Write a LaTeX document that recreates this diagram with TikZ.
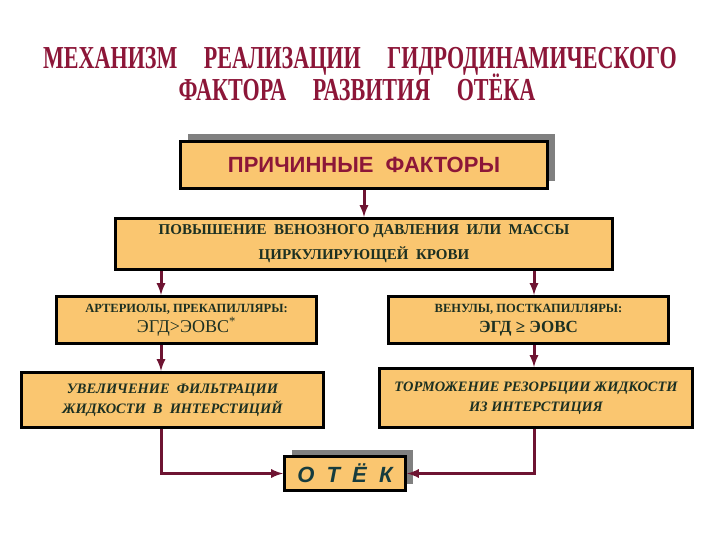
\documentclass[tikz,border=0pt]{standalone}
\usepackage{fontspec}
\usepackage{graphicx}
\setmainfont{Liberation Serif}
\setsansfont{Liberation Sans}
\usetikzlibrary{positioning,shadows}
\definecolor{titleColor}{RGB}{140,22,56}
\definecolor{boxFill}{RGB}{250,198,112}
\definecolor{boxText}{RGB}{28,48,34}
\definecolor{lineColor}{RGB}{110,20,50}
\definecolor{shadowColor}{RGB}{128,128,128}
\definecolor{edemaText}{RGB}{22,60,62}
\tikzstyle{slide} = [x=1pt, y=-1pt]
\tikzstyle{titleText} = [color=titleColor, font=\bfseries\fontsize{32}{32}\selectfont, anchor=base, inner sep=0pt]
\tikzstyle{boxStyle} = [draw=black, fill=boxFill, line width=3pt, inner sep=0pt, align=center, text=boxText, font=\bfseries\fontsize{15}{25}\selectfont]
\tikzstyle{shadowBox} = [boxStyle, drop shadow={shadow xshift=7pt, shadow yshift=7pt, fill=shadowColor, opacity=1}]
\tikzstyle{arrowLine} = [color=lineColor, line width=3pt, -latex]
\newcommand{\squeeze}[1]{\scalebox{0.69}[1]{#1}}
\newcommand{\gap}{\hspace{1.2em}}

\begin{document}
\begin{tikzpicture}[slide]
  \useasboundingbox (0,0) rectangle (720,540);

  \node[titleText] (titleTop) at (360,69) {\squeeze{МЕХАНИЗМ\gap РЕАЛИЗАЦИИ\gap ГИДРОДИНАМИЧЕСКОГО}};
  \node[titleText] (titleBottom) at (357,101) {\squeeze{ФАКТОРА\gap РАЗВИТИЯ\gap ОТЁКА}};

  \node[shadowBox, minimum width=367pt, minimum height=47pt, text=titleColor,
        font=\sffamily\bfseries\fontsize{22}{22}\selectfont] (cause) at (364,165) {ПРИЧИННЫЕ\ \ ФАКТОРЫ};
  \node[boxStyle, minimum width=497pt, minimum height=51pt] (rise) at (364,244)
        {ПОВЫШЕНИЕ\ \ ВЕНОЗНОГО ДАВЛЕНИЯ\ \ ИЛИ\ \ МАССЫ\\ЦИРКУЛИРУЮЩЕЙ\ \ КРОВИ};
  \node[boxStyle, minimum width=260pt, minimum height=47pt, font=\bfseries\fontsize{12.5}{20}\selectfont] (arterial) at (186.5,320)
        {АРТЕРИОЛЫ, ПРЕКАПИЛЛЯРЫ:\\{\mdseries\fontsize{18}{18}\selectfont ЭГД>ЭОВС\textsuperscript{*}}};
  \node[boxStyle, minimum width=280pt, minimum height=47pt, font=\bfseries\fontsize{12.5}{20}\selectfont] (venous) at (528.5,320)
        {ВЕНУЛЫ, ПОСТКАПИЛЛЯРЫ:\\{\fontsize{17}{17}\selectfont ЭГД ≥ ЭОВС}};
  \node[boxStyle, minimum width=302pt, minimum height=55pt, font=\bfseries\itshape\fontsize{14.4}{20}\selectfont] (filtration) at (172.5,400)
        {УВЕЛИЧЕНИЕ\ \ ФИЛЬТРАЦИИ\\ЖИДКОСТИ\ \ В\ \ ИНТЕРСТИЦИЙ};
  \node[boxStyle, minimum width=313pt, minimum height=59pt, font=\bfseries\itshape\fontsize{14.4}{20}\selectfont] (resorption) at (536,398)
        {ТОРМОЖЕНИЕ РЕЗОРБЦИИ ЖИДКОСТИ\\ИЗ ИНТЕРСТИЦИЯ};
  \node[shadowBox, minimum width=121pt, minimum height=34pt, text=edemaText,
        font=\sffamily\bfseries\itshape\fontsize{22}{22}\selectfont] (edema) at (345,473.5)
        {О\hspace{.55em}Т\hspace{.55em}Ё\hspace{.55em}К};

  % lanes of the two branches
  \coordinate (leftLane) at (161,0);
  \coordinate (rightLane) at (534,0);

  \draw[arrowLine] (cause) -- (rise);
  \draw[arrowLine] (rise.south -| leftLane) -- (arterial.north -| leftLane);
  \draw[arrowLine] (rise.south -| rightLane) -- (venous.north -| rightLane);
  \draw[arrowLine] (arterial.south -| leftLane) -- (filtration.north -| leftLane);
  \draw[arrowLine] (venous.south -| rightLane) -- (resorption.north -| rightLane);
  \draw[arrowLine] (filtration.south -| leftLane) |- (edema.west);
  \draw[arrowLine] (resorption.south -| rightLane) |- (edema.east);
\end{tikzpicture}
\end{document}
